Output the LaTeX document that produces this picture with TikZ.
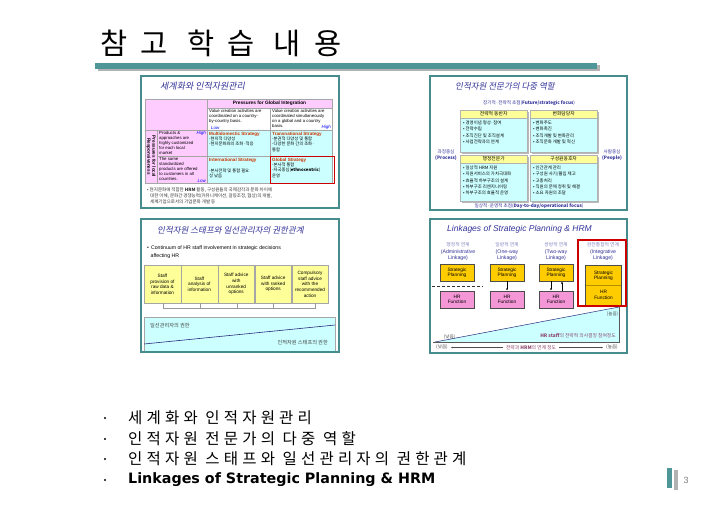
\documentclass[tikz,border=0pt]{standalone}
\usepackage{fontspec}
\setmainfont{Liberation Sans}
\newfontfamily\kr{Noto Sans CJK KR}
\newfontfamily\krit[FakeSlant=0.2]{Noto Sans CJK KR}
\newfontfamily\krsp[LetterSpace=44]{Noto Sans CJK KR}
\newfontfamily\krbul[LetterSpace=27]{Noto Sans CJK KR}
\newfontfamily\dvb{DejaVu Sans}
\usetikzlibrary{arrows.meta}
\definecolor{tealbar}{RGB}{78,150,152}
\definecolor{frameteal}{RGB}{70,140,140}
\definecolor{pinkc}{RGB}{255,204,255}
\definecolor{cyanc}{RGB}{204,255,255}
\definecolor{yelc}{RGB}{255,255,153}
\definecolor{goldc}{RGB}{255,204,0}
\definecolor{hrpink}{RGB}{245,150,215}
\definecolor{navy}{RGB}{51,51,153}
\definecolor{stratred}{RGB}{204,51,0}
\definecolor{redbox}{RGB}{204,0,0}
\definecolor{lbl}{RGB}{140,70,110}
\tikzset{
  panel/.style={draw=frameteal,line width=1.6pt,fill=white},
  ptitle/.style={font=\krit\fontsize{8.5}{9}\selectfont,text=navy,inner sep=0},
  tiny/.style={font=\fontsize{4.3}{5}\selectfont,inner sep=0,align=left},
  tinykr/.style={font=\kr\fontsize{4.3}{5.2}\selectfont,inner sep=0,align=left},
  strat/.style={font=\bfseries\fontsize{4.6}{5}\selectfont,text=stratred,inner sep=0},
  lowhigh/.style={font=\itshape\fontsize{4.5}{5}\selectfont,text=blue,inner sep=0},
  cell/.style={draw=gray!70,line width=0.3pt},
  rolehead/.style={draw=gray!60,fill=yelc,line width=0.3pt,minimum width=67pt,minimum height=8pt,inner sep=0,font=\kr\fontsize{4.8}{5}\selectfont},
  rolebody/.style={draw=gray!60,fill=cyanc,line width=0.3pt},
  stepbox/.style={draw=gray!70,fill=yelc,line width=0.3pt,minimum width=36.6pt,minimum height=38pt,inner sep=0,align=center,font=\fontsize{4.7}{5.6}\selectfont},
  spbox/.style={draw=black!70,fill=goldc,line width=0.6pt,minimum width=34pt,minimum height=17pt,inner sep=0,align=center,font=\fontsize{4.8}{5.4}\selectfont},
  hrbox/.style={draw=black!70,fill=hrpink,line width=0.6pt,minimum width=34pt,minimum height=17pt,inner sep=0,align=center,font=\fontsize{4.8}{5.4}\selectfont},
  linkhead/.style={inner sep=0,align=center,font=\fontsize{5.2}{6}\selectfont,text=navy},
  bul/.style={font=\kr\fontsize{16}{18}\selectfont,inner sep=0,anchor=west},
}
\begin{document}
\begin{tikzpicture}[x=1pt,y=-1pt]
\useasboundingbox (0,0) rectangle (728,504);
\fill[white] (0,0) rectangle (728,504);
% ---------- title ----------
\node[font=\krsp\fontsize{29.5}{30}\selectfont,anchor=west,inner sep=0] (title) at (100,43) {참고 학습 내용};
\fill[gray!60] (98,64.5) rectangle (600,70.5);
\fill[tealbar] (95,62.5) rectangle (597,68.5);

% ================= PANEL 1 =================
\draw[panel] (141,76) rectangle (339,208);
\node[ptitle,font=\krit\fontsize{9}{9}\selectfont,anchor=west] (p1t) at (160,86) {세계화와 인적자원관리};
% table cells
\fill[pinkc] (145,99) rectangle (207,130);
\fill[pinkc] (207,99) rectangle (332,108);
\fill[white] (207,108) rectangle (332,130);
\fill[pinkc] (145,130) rectangle (207,183);
\fill[cyanc] (207,130) rectangle (332,183);
\draw[cell] (145,99) rectangle (332,183);
\draw[cell] (207,99) -- (207,183);
\draw[cell] (270,108) -- (270,183);
\draw[cell] (207,108) -- (332,108);
\draw[cell] (145,130) -- (332,130);
\draw[cell] (157,156) -- (332,156);
\draw[cell] (157,130) -- (157,183);
\node[tiny,font=\bfseries\fontsize{4.8}{5}\selectfont] (pgi) at (269.5,103.5) {Pressures for Global Integration};
\node[tiny,anchor=north west] (vc1) at (209,109.5) {Value creation activities are\\coordinated on a country-\\by-country basis.};
\node[lowhigh,anchor=south west] (vcl) at (211,129.5) {Low};
\node[tiny,anchor=north west] (vc2) at (272,109.5) {Value creation activities are\\coordinated simultaneously\\on a global and a country\\basis.};
\node[lowhigh,anchor=south east] (vch) at (331,129.5) {High};
\node[tiny,rotate=-90,align=center,font=\bfseries\fontsize{4.6}{5}\selectfont] (plr) at (151,156.5) {Pressures for local\\Responsiveness};
\node[tiny,anchor=north west] (pa1) at (159,131.5) {Products \&\\approaches are\\highly customized\\for each local\\market};
\node[lowhigh,anchor=north east] (pah) at (206,131.3) {High};
\node[tiny,anchor=north west] (pa2) at (159,157.5) {The same\\standardized\\products are offered\\to customers in all\\countries.};
\node[lowhigh,anchor=south east] (pal) at (206,182.5) {Low};
\node[strat,anchor=north west] (ms) at (209,131.5) {Multidomestic Strategy};
\node[tinykr,anchor=north west] (msd) at (209,137) {-현지적 다양성\\-현지문화와의 조화·적응};
\node[strat,anchor=north west] (ts) at (272,131.5) {Transnational Strategy};
\node[tinykr,anchor=north west] (tsd) at (272,137) {-분권적 다양성 및 통합\\-다양한 문화 간의 조화·\\통합};
\node[strat,anchor=north west] (is) at (209,157.5) {International Strategy};
\node[tinykr,anchor=north west] (isd) at (209,169) {-본사전략 및 통합 필요\\성 낮음};
\node[strat,anchor=north west] (gs) at (272,157.5) {Global Strategy};
\node[tinykr,anchor=north west] (gsd) at (272,163) {-본사적 통합\\-자국중심(\textbf{ethnocentric})\\운영};
\draw[redbox,line width=1pt] (270,156) rectangle (334.5,183.5);
\node[tinykr,anchor=north west,font=\kr\fontsize{4.5}{6}\selectfont,text=black!80] (fn) at (147,187.5) {• 현지문화에 적합한 \textbf{HRM} 활동, 구성원들의 국제감각과 문화 차이에\\\hspace*{3pt}대한 이해, 문화간 경쟁능력(커뮤니케이션, 갈등조정, 협상)의 개발,\\\hspace*{3pt}세계기업으로서의 기업문화 개발 등};

% ================= PANEL 2 =================
\draw[panel] (430,76) rectangle (627,210);
\node[ptitle,anchor=west] (p2t) at (455,86) {인적자원 전문가의 다중 역할};
\node[tinykr,font=\kr\fontsize{4.6}{5}\selectfont,text=navy] (fut) at (529,103.5) {장기적·전략적 초점(\textbf{Future/strategic focus})};
\node[tinykr,font=\kr\fontsize{4.6}{5}\selectfont,text=navy] (day) at (529,206) {일상적·운영적 초점(\textbf{Day-to-day/operational focus})};
\node[tinykr,align=center,font=\kr\fontsize{4.6}{6.5}\selectfont,text=navy] (proc) at (446,155) {과정중심\\\textbf{(Process)}};
\node[tinykr,align=center,font=\kr\fontsize{4.6}{6.5}\selectfont,text=navy] (peop) at (612,155) {사람중심\\\textbf{(People)}};
% boxes with shadow
\foreach \bx/\by/\bh in {460/110/42,530/110/42,460/155/46,530/155/46}{
  \fill[gray!55] (\bx+1.5,\by+1.5) rectangle (\bx+68.5,\by+\bh+1.5);
  \draw[rolebody] (\bx,\by) rectangle (\bx+67,\by+\bh);
}
\node[rolehead,anchor=north west] (r1) at (460,110) {전략적 동반자};
\node[rolehead,anchor=north west] (r2) at (530,110) {변화담당자};
\node[rolehead,anchor=north west] (r3) at (460,155) {행정전문가};
\node[rolehead,anchor=north west] (r4) at (530,155) {구성원옹호자};
\node[tinykr,anchor=north west,font=\kr\fontsize{4.4}{6.1}\selectfont] (r1i) at (463,121) {• 경영이념 형성·참여\\• 전략수립\\• 조직진단 및 조직설계\\• 사업전략과의 연계};
\node[tinykr,anchor=north west,font=\kr\fontsize{4.4}{6.1}\selectfont] (r2i) at (533,121) {• 변화주도\\• 변화촉진\\• 조직개발 및 변화관리\\• 조직문화 개발 및 혁신};
\node[tinykr,anchor=north west,font=\kr\fontsize{4.4}{6.1}\selectfont] (r3i) at (463,166) {• 일상적 HRM 지원\\• 지원서비스의 가치극대화\\• 효율적 하부구조의 설계\\• 하부구조 리엔지니어링\\• 하부구조의 효율적 운영};
\node[tinykr,anchor=north west,font=\kr\fontsize{4.4}{6.1}\selectfont] (r4i) at (533,166) {• 인간관계 관리\\• 구성원 사기/몰입 제고\\• 고충처리\\• 직원의 문제 청취 및 해결\\• 소요 자원의 조달};

% ================= PANEL 3 =================
\draw[panel] (141,219) rectangle (339,352);
\node[ptitle,anchor=west] (p3t) at (157,230) {인적자원 스태프와 일선관리자의 권한관계};
\node[tiny,anchor=north west,font=\fontsize{5.2}{8}\selectfont] (cont) at (147,246) {•\hspace{2pt}Continuum of HR staff involvement in strategic decisions\\\hspace*{3.5pt}affecting HR};
\node[stepbox,anchor=north west] (s1) at (144,265) {Staff\\provision of\\raw data \&\\information};
\node[stepbox,anchor=north west] (s2) at (s1.north east) {Staff\\analysis of\\information};
\node[stepbox,anchor=north west] (s3) at (s2.north east) {Staff advice\\with\\unranked\\options};
\node[stepbox,anchor=north west] (s4) at (s3.north east) {Staff advice\\with ranked\\options};
\node[stepbox,anchor=north west] (s5) at (s4.north east) {Compulsory\\staff advice\\with the\\recommended\\action};
\coordinate (bl) at (163,308);
\coordinate (br) at (315,308);
\draw[gray!80,line width=0.5pt] (163,303) -- (bl) -- (br) -- (315,303);
\foreach \tx in {200,237,273}{\draw[gray!80,line width=0.5pt] (\tx,303) -- (\tx,308);}
\fill[cyanc] (144,317) rectangle (335,351);
\draw[gray!70,line width=0.5pt] (144,351) -- (144,317) -- (335,317) -- (335,351);
\coordinate (dl) at (144,344);
\coordinate (dr) at (335,325);
\draw[navy!80!black,line width=0.6pt] (dl) -- (dr);
\node[tinykr,font=\kr\fontsize{5.2}{6}\selectfont,text=black!75,anchor=west] (lm) at (150,326) {일선관리자의 권한};
\node[tinykr,font=\kr\fontsize{5.2}{6}\selectfont,text=black!75,anchor=east] (hs) at (328,343) {인적자원 스태프의 권한};
\draw[panel,fill=none] (141,219) rectangle (339,352);

% ================= PANEL 4 =================
\draw[panel] (430,219) rectangle (627,353);
\node[ptitle,font=\itshape\fontsize{8.5}{9}\selectfont,anchor=west] (p4t) at (447,229) {Linkages of Strategic Planning \& HRM};
\node[linkhead,font=\kr\fontsize{4.8}{6}\selectfont,text=navy!60] (h1k) at (458,245) {행정적 연계};
\node[linkhead,font=\kr\fontsize{4.8}{6}\selectfont,text=navy!60] (h2k) at (507,245) {일방적 연계};
\node[linkhead,font=\kr\fontsize{4.8}{6}\selectfont,text=navy!60] (h3k) at (556,245) {쌍방적 연계};
\node[linkhead,font=\kr\fontsize{4.8}{6}\selectfont,text=navy!60] (h4k) at (603,245) {완전통합적 연계};
\node[linkhead] (h1) at (458,255) {(Administrative\\Linkage)};
\node[linkhead] (h2) at (507,255) {(One-way\\Linkage)};
\node[linkhead] (h3) at (556,255) {(Two-way\\Linkage)};
\node[linkhead] (h4) at (603,255) {(Integrative\\Linkage)};
\node[spbox] (sp1) at (457,272.5) {Strategic\\Planning};
\node[hrbox] (hr1) at (457,299.5) {HR\\Function};
\node[spbox] (sp2) at (507,272.5) {Strategic\\Planning};
\node[hrbox] (hr2) at (507,299.5) {HR\\Function};
\node[spbox] (sp3) at (556,272.5) {Strategic\\Planning};
\node[hrbox] (hr3) at (556,299.5) {HR\\Function};
\coordinate (dsl) at (432,286);
\coordinate (dsr) at (483,286);
\draw[black!80,line width=0.7pt,dash pattern=on 3pt off 2pt] (dsl) -- (dsr);
\draw[-{Latex[length=2.2pt,width=2pt]},line width=0.5pt] (sp2) -- (hr2);
\draw[-{Latex[length=2.2pt,width=2pt]},line width=0.5pt] ([xshift=-5pt]sp3.south) -- ([xshift=-5pt]hr3.north);
\draw[-{Latex[length=2.2pt,width=2pt]},line width=0.5pt] ([xshift=6pt]hr3.north) -- ([xshift=6pt]sp3.south);
% triangle
\coordinate (ta) at (435,342);
\coordinate (tb) at (619,307);
\coordinate (tc) at (619,342);
\fill[cyanc] (ta) -- (tb) -- (tc) -- cycle;
\draw[navy!80!black,line width=0.5pt] (ta) -- (tb);
\draw[gray!70!black,line width=0.9pt] (433,342) -- (tc) -- (tb);
% integrative box
\node[spbox,fill=goldc,draw=none,minimum width=35pt,minimum height=19pt] (sp4) at (603.5,275.5) {Strategic\\Planning};
\node[spbox,fill=goldc,draw=none,minimum width=35pt,minimum height=20pt] (hr4) at (603.5,295) {HR\\Function};
\draw[black!70,line width=0.7pt] (sp4.north west) rectangle (hr4.south east);
\draw[goldc!70!black,line width=0.3pt] (sp4.south west) -- (sp4.south east);
\draw[redbox,line width=1.3pt] (578,240) rectangle (626,306);
\node[tinykr,font=\kr\fontsize{4.6}{5}\selectfont,text=black!70] (hi1) at (612.5,314) {(높음)};
\node[tinykr,font=\kr\fontsize{4.6}{5}\selectfont,text=black!70] (lo1) at (449.5,337) {(낮음)};
\node[tinykr,font=\kr\fontsize{4.8}{5}\selectfont,text=lbl,anchor=east] (hrs) at (616,336) {\textbf{HR staff}의 전략적 의사결정 참여정도};
\node[tinykr,font=\kr\fontsize{4.6}{5}\selectfont,text=black!70] (lo2) at (442,347.5) {(낮음)};
\node[tinykr,font=\kr\fontsize{4.8}{5}\selectfont,text=lbl] (axl) at (531,347.5) {전략과 \textbf{HRM}의 연계 정도};
\node[tinykr,font=\kr\fontsize{4.6}{5}\selectfont,text=black!70] (hi2) at (612,347.5) {(높음)};
\draw[-{Latex[length=1.8pt,width=1.6pt]},line width=0.3pt,black!70] ([xshift=-3pt]axl.west) -- ([xshift=3pt]lo2.east);
\draw[-{Latex[length=1.8pt,width=1.6pt]},line width=0.3pt,black!70] ([xshift=3pt]axl.east) -- ([xshift=-3pt]hi2.west);

% ================= BULLETS =================
\foreach \yy in {418,439,459,480}{\fill[black] (105,\yy) circle (1.2pt);}
\node[bul,font=\krbul\fontsize{15.5}{18}\selectfont] (b1) at (128,418) {세계화와 인적자원관리};
\node[bul,font=\krbul\fontsize{15.5}{18}\selectfont] (b2) at (128,439) {인적자원 전문가의 다중 역할};
\node[bul,font=\krbul\fontsize{15.5}{18}\selectfont] (b3) at (128,459) {인적자원 스태프와 일선관리자의 권한관계};
\node[bul,font=\dvb\bfseries\fontsize{14.3}{16}\selectfont] (b4) at (128,480) {Linkages of Strategic Planning \& HRM};
% page mark
\fill[tealbar] (667,468) rectangle (672,488);
\fill[gray!60] (674,470) rectangle (678,490);
\node[font=\fontsize{9}{10}\selectfont,text=gray,inner sep=0] (pg) at (686,480) {3};
\end{tikzpicture}
\end{document}
